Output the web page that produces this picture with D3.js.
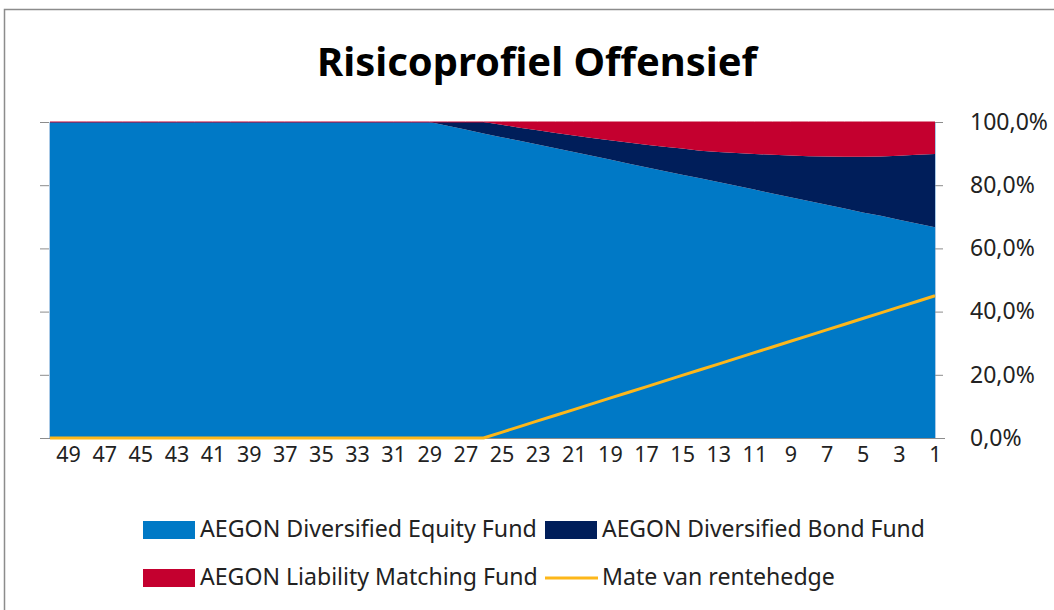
<!DOCTYPE html>
<html><head><meta charset="utf-8">
<script src="https://cdn.jsdelivr.net/npm/d3@7"></script>
<style>body{margin:0;background:#fff}svg{display:block}</style>
</head><body>
<svg id="c" width="1054" height="610"></svg>
<script>
const categories = [50,49,48,47,46,45,44,43,42,41,40,39,38,37,36,35,34,33,32,31,30,29,28,27,26,25,24,23,22,21,20,19,18,17,16,15,14,13,12,11,10,9,8,7,6,5,4,3,2,1];
const equity = [100,100,100,100,100,100,100,100,100,100,100,100,100,100,100,100,100,100,100,100,100,100,
  98.8,97.6,96.4,95.2,94.1,92.9,91.7,90.5,89.3,88.1,86.9,85.7,84.5,83.3,82.2,81.0,79.8,78.6,77.4,76.2,75.0,73.8,72.6,71.4,70.3,69.1,67.9,66.7];
const bond = [0,0,0,0,0,0,0,0,0,0,0,0,0,0,0,0,0,0,0,0,0,0,
  1.2,2.4,3.6,3.9,4.1,4.5,4.8,5.2,5.6,6.1,6.6,7.1,7.7,8.3,8.7,9.5,10.4,11.3,12.2,13.2,14.2,15.3,16.4,17.6,18.8,20.2,21.7,23.2];
const liability = [0,0,0,0,0,0,0,0,0,0,0,0,0,0,0,0,0,0,0,0,0,0,
  0,0,0,0.9,1.8,2.6,3.5,4.3,5.1,5.8,6.5,7.2,7.8,8.4,9.1,9.5,9.8,10.1,10.4,10.6,10.8,10.9,11.0,11.0,10.9,10.7,10.4,10.1];
const hedge = [0,0,0,0,0,0,0,0,0,0,0,0,0,0,0,0,0,0,0,0,0,0,0,0,0,
  1.8,3.6,5.4,7.2,9.0,10.8,12.6,14.4,16.2,18.0,19.8,21.6,23.4,25.2,27.0,28.8,30.6,32.4,34.2,36.0,37.8,39.6,41.4,43.2,45.0];
const xTickLabels = [49,47,45,43,41,39,37,35,33,31,29,27,25,23,21,19,17,15,13,11,9,7,5,3,1];
const yTicks = [0,20,40,60,80,100];
const seriesNames = ["AEGON Diversified Equity Fund","AEGON Diversified Bond Fund","AEGON Liability Matching Fund","Mate van rentehedge"];
const colors = ["#0079C6","#001E5A","#C4002F","#FDB71A"];
const title = "Risicoprofiel Offensief";

const svg = d3.select("#c");
const FONT = "'Noto Sans', 'Open Sans', sans-serif";

function fit(sel, target){
  const n = sel.node();
  const base = parseFloat(sel.attr("font-size"));
  const w = n.getComputedTextLength();
  if (w > 0) sel.attr("font-size", base * target / w);
}

// chart frame
svg.append("rect").attr("x",4.5).attr("y",9.5).attr("width",1200).attr("height",800)
  .attr("fill","#fff").attr("stroke","#8c8c8c").attr("stroke-width",1.5);

const x = d3.scalePoint().domain(categories).range([50,935]);
const y = d3.scaleLinear().domain([0,100]).range([438,122]);

const rows = categories.map((c,i)=>({cat:c, equity:equity[i], bond:bond[i], liability:liability[i], hedge:hedge[i]}));
const keys = ["equity","bond","liability"];
const stack = d3.stack().keys(keys)(rows);

const area = d3.area().x(d=>x(d.data.cat)).y0(d=>y(d[0])).y1(d=>y(d[1]));
svg.append("g").selectAll("path").data(stack).join("path")
  .attr("d", area).attr("fill",(d,i)=>colors[i]);

// thin red line on top of the stack
svg.append("path").datum(stack[2])
  .attr("d", d3.line().x(d=>x(d.data.cat)).y(d=>y(d[1])))
  .attr("fill","none").attr("stroke",colors[2]).attr("stroke-width",1);

// axes
const gy = svg.append("g").attr("transform","translate(935,0)")
  .call(d3.axisRight(y).tickValues(yTicks).tickSize(8).tickPadding(27)
    .tickFormat(d=>d3.format(".1f")(d).replace(".",",")+"%"));
gy.select(".domain").attr("stroke","#a9c9e6");
gy.selectAll(".tick line").attr("stroke","#8c8c8c");
gy.selectAll("text").attr("font-family",FONT).attr("font-size",23).attr("fill","#222");

const gyl = svg.append("g").attr("transform","translate(49,0)")
  .call(d3.axisLeft(y).tickValues(yTicks).tickSize(9).tickFormat(""));
gyl.select(".domain").attr("stroke","#a9c9e6");
gyl.selectAll(".tick line").attr("stroke","#8c8c8c");

const gx = svg.append("g").attr("transform","translate(0,438)")
  .call(d3.axisBottom(x).tickValues(xTickLabels).tickSize(0).tickPadding(9));
gx.select(".domain").remove();
gx.selectAll("text").attr("font-family",FONT).attr("font-size",21.5).attr("fill","#222");
svg.append("line").attr("x1",40).attr("x2",945).attr("y1",438.5).attr("y2",438.5)
  .attr("stroke","#8c8c8c").attr("stroke-width",1);

// hedge line
svg.append("path").datum(rows)
  .attr("d", d3.line().x(d=>x(d.cat)).y(d=>y(d.hedge)))
  .attr("fill","none").attr("stroke",colors[3]).attr("stroke-width",3).attr("stroke-linejoin","round");

// title
const t = svg.append("text").attr("x",537).attr("y",76).attr("text-anchor","middle")
  .attr("font-family",FONT).attr("font-weight","bold").attr("font-size",34).attr("fill","#000").text(title);
fit(t, 440);

// legend
const legendItems = [
  {name:seriesNames[0], color:colors[0], type:"rect", x:143, y:530, w:337},
  {name:seriesNames[1], color:colors[1], type:"rect", x:545, y:530, w:323},
  {name:seriesNames[2], color:colors[2], type:"rect", x:143, y:578, w:338},
  {name:seriesNames[3], color:colors[3], type:"line", x:545, y:578, w:233}
];
const lg = svg.append("g");
legendItems.forEach(it=>{
  if (it.type==="rect") {
    lg.append("rect").attr("x",it.x).attr("y",it.y-9).attr("width",52).attr("height",18).attr("fill",it.color);
  } else {
    lg.append("line").attr("x1",it.x).attr("x2",it.x+53).attr("y1",it.y).attr("y2",it.y)
      .attr("stroke",it.color).attr("stroke-width",3);
  }
  const tt = lg.append("text").attr("x",it.x+57).attr("y",it.y+7)
    .attr("font-family",FONT).attr("font-size",20).attr("fill","#222").text(it.name);
  fit(tt, it.w);
});
</script>
</body></html>
